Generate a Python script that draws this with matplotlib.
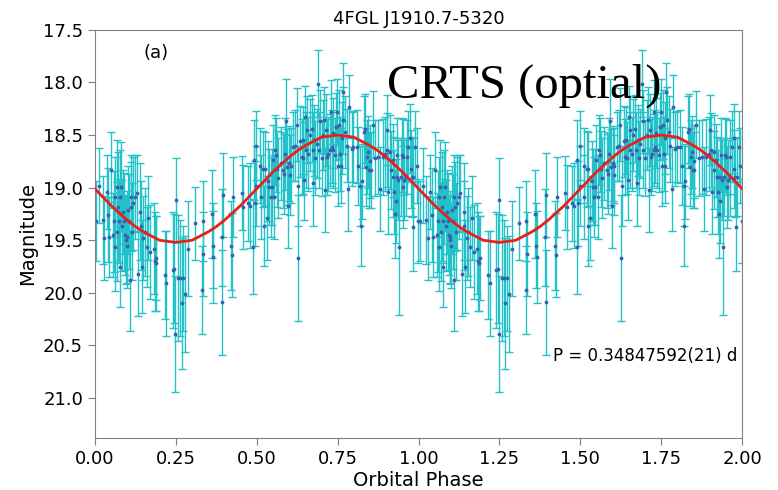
import matplotlib
matplotlib.use("Agg")
import matplotlib.pyplot as plt

# one folded cycle (phase, magnitude, error)
phase = [0.003, 0.013, 0.024, 0.028, 0.036, 0.041, 0.044, 0.051, 0.057, 0.059,
         0.062, 0.063, 0.067, 0.069, 0.072, 0.075, 0.077, 0.079, 0.082, 0.085,
         0.087, 0.091, 0.093, 0.096, 0.098, 0.100, 0.103, 0.106, 0.108, 0.110,
         0.113, 0.116, 0.118, 0.124, 0.129, 0.134, 0.139, 0.141, 0.144, 0.149,
         0.154, 0.160, 0.165, 0.170, 0.182, 0.185, 0.188, 0.190, 0.216, 0.221,
         0.240, 0.244, 0.247, 0.250, 0.258, 0.263, 0.268, 0.273, 0.278, 0.288,
         0.309, 0.333, 0.335, 0.332, 0.361, 0.364, 0.366, 0.392, 0.393, 0.395,
         0.422, 0.424, 0.428, 0.453, 0.458, 0.474,
         0.479, 0.489, 0.491, 0.494, 0.498, 0.498, 0.510, 0.512, 0.520, 0.522,
         0.525, 0.531, 0.536, 0.539, 0.543, 0.546, 0.549, 0.553, 0.556, 0.561,
         0.563, 0.567, 0.574, 0.582, 0.584, 0.587, 0.590, 0.594, 0.597, 0.601,
         0.603, 0.605, 0.613, 0.618, 0.623, 0.626, 0.628, 0.634, 0.639, 0.642,
         0.644, 0.646, 0.649, 0.652, 0.654, 0.659, 0.664, 0.670, 0.673, 0.675,
         0.677, 0.680, 0.685, 0.690, 0.693, 0.695, 0.701, 0.706, 0.708, 0.711,
         0.714, 0.718, 0.721, 0.726, 0.728, 0.731, 0.735, 0.737, 0.742, 0.745,
         0.749, 0.752, 0.755, 0.757, 0.760, 0.762, 0.765, 0.768, 0.773, 0.778,
         0.783, 0.786, 0.793, 0.798, 0.809, 0.814, 0.819, 0.821, 0.824, 0.831,
         0.835, 0.838, 0.842, 0.845, 0.848, 0.850, 0.852, 0.858, 0.865, 0.876,
         0.881, 0.889, 0.896, 0.901, 0.903, 0.907, 0.912, 0.914, 0.920, 0.922,
         0.924, 0.927, 0.930, 0.932, 0.934, 0.938, 0.941, 0.945, 0.948, 0.951,
         0.953, 0.955, 0.961, 0.963, 0.968, 0.974, 0.976, 0.979, 0.982, 0.984,
         0.989, 0.994, 0.999]
mag = [19.32, 18.98, 19.31, 19.48, 19.04, 19.26, 19.47, 18.83, 19.45, 19.32,
       19.56, 19.09, 18.99, 19.42, 19.18, 19.32, 19.75, 19.09, 18.99, 19.36,
       19.23, 19.32, 19.45, 19.50, 19.47, 19.55, 19.21, 19.32, 19.88, 19.09,
       19.18, 19.42, 19.15, 19.09, 19.05, 19.82, 19.23, 19.36, 19.75, 19.48,
       19.42, 19.56, 19.29, 19.61, 19.58, 19.70, 19.72, 19.67, 19.83, 19.91,
       19.78, 19.77, 20.39, 19.12, 19.86, 19.86, 20.10, 19.86, 20.01, 19.58,
       19.34, 19.32, 19.63, 19.97, 19.25, 19.55, 19.66, 19.47, 20.09, 19.07,
       19.55, 19.64, 19.09, 19.05, 19.18, 19.15,
       19.17, 19.56, 18.74, 19.15, 18.60, 18.98, 18.79, 19.09, 18.82, 19.36,
       18.82, 19.29, 18.94, 18.99, 19.09, 18.99, 18.74, 19.09, 18.64, 18.69,
       18.82, 18.91, 18.77, 18.83, 18.87, 18.68, 18.37, 18.80, 19.17, 18.77,
       18.88, 18.79, 18.61, 18.60, 18.40, 19.67, 18.98, 18.56, 18.71, 18.55,
       18.72, 18.93, 18.33, 18.64, 18.45, 18.68, 18.50, 18.44, 18.64, 18.96,
       18.55, 18.72, 18.58, 18.01, 18.64, 18.37, 18.72, 18.50, 18.36, 19.02,
       18.45, 18.71, 18.68, 18.64, 18.28, 18.61, 18.48, 18.64, 18.69, 18.42,
       18.28, 18.79, 18.40, 18.68, 18.79, 18.53, 18.09, 18.36, 18.47, 18.60,
       19.01, 18.23, 18.63, 18.61, 18.61, 18.79, 18.98, 19.36, 18.94, 18.47,
       18.44, 18.80, 18.71, 18.66, 18.83, 18.75, 18.83, 18.40, 18.72, 18.71,
       19.01, 18.71, 18.68, 18.45, 18.64, 19.04, 18.66, 18.83, 18.74, 18.90,
       19.04, 19.25, 19.13, 18.90, 18.69, 18.93, 19.56, 18.90, 18.69, 18.71,
       18.99, 18.93, 18.90, 18.71, 18.61, 18.53, 18.82, 18.90, 19.37, 18.90,
       18.61, 18.79, 19.32]
err = [0.38, 0.36, 0.42, 0.40, 0.35, 0.45, 0.38, 0.36, 0.40, 0.48,
       0.42, 0.38, 0.44, 0.47, 0.52, 0.40, 0.38, 0.45, 0.42, 0.43,
       0.40, 0.46, 0.38, 0.42, 0.44, 0.40, 0.42, 0.45, 0.48, 0.40,
       0.42, 0.46, 0.44, 0.40, 0.36, 0.40, 0.46, 0.42, 0.44, 0.40,
       0.42, 0.38, 0.40, 0.45, 0.43, 0.47, 0.45, 0.40, 0.42, 0.50,
       0.55, 0.52, 0.55, 0.40, 0.60, 0.55, 0.62, 0.50, 0.55, 0.45,
       0.35, 0.38, 0.40, 0.42, 0.42, 0.40, 0.44, 0.46, 0.50, 0.40,
       0.42, 0.40, 0.38, 0.35, 0.40, 0.36,
       0.40, 0.45, 0.38, 0.40, 0.33, 0.38, 0.36, 0.40, 0.36, 0.38,
       0.35, 0.40, 0.38, 0.36, 0.38, 0.36, 0.34, 0.40, 0.33, 0.35,
       0.36, 0.38, 0.35, 0.36, 0.38, 0.34, 0.40, 0.36, 0.40, 0.36,
       0.38, 0.36, 0.33, 0.34, 0.35, 0.60, 0.38, 0.34, 0.36, 0.32,
       0.34, 0.38, 0.30, 0.36, 0.32, 0.35, 0.34, 0.32, 0.36, 0.40,
       0.34, 0.35, 0.33, 0.32, 0.36, 0.30, 0.36, 0.33, 0.32, 0.40,
       0.34, 0.36, 0.35, 0.34, 0.30, 0.35, 0.33, 0.36, 0.35, 0.32,
       0.31, 0.38, 0.33, 0.35, 0.36, 0.34, 0.28, 0.32, 0.34, 0.35,
       0.40, 0.30, 0.35, 0.34, 0.35, 0.37, 0.38, 0.38, 0.36, 0.34,
       0.33, 0.37, 0.35, 0.34, 0.36, 0.35, 0.36, 0.32, 0.36, 0.35,
       0.40, 0.36, 0.35, 0.33, 0.35, 0.40, 0.35, 0.37, 0.35, 0.38,
       0.40, 0.42, 0.40, 0.37, 0.35, 0.38, 0.65, 0.37, 0.35, 0.36,
       0.39, 0.38, 0.37, 0.35, 0.34, 0.33, 0.37, 0.38, 0.42, 0.37,
       0.34, 0.36, 0.40]

# sinusoid fit, one cycle at 0.025 steps
fit_phase = [i * 0.025 for i in range(41)]
fit_mag = [19.01, 19.09, 19.17, 19.24, 19.31, 19.37, 19.42, 19.46, 19.50, 19.51,
           19.52, 19.51, 19.50, 19.46, 19.42, 19.37, 19.31, 19.24, 19.17, 19.09,
           19.01, 18.93, 18.85, 18.78, 18.71, 18.65, 18.60, 18.56, 18.52, 18.51,
           18.50, 18.51, 18.52, 18.56, 18.60, 18.65, 18.71, 18.78, 18.85, 18.93,
           19.01]

# folded light curve shown twice
x = phase + [p + 1 for p in phase]
y = mag + mag
e = err + err
fx = fit_phase + [p + 1 for p in fit_phase[1:]]
fy = fit_mag + fit_mag[1:]

fig = plt.figure(figsize=(7.78, 4.9), dpi=100)
ax = fig.add_axes([0.122, 0.106, 0.832, 0.833])

ax.errorbar(x, y, yerr=e, fmt='.', color='#3a62b0', ecolor='#22c2c8',
            elinewidth=1.0, capsize=3, capthick=1.0, markersize=3.5, zorder=2)
ax.plot(fx, fy, color='#e8201a', lw=2, zorder=3)

ax.set_xlim(0, 2)
ax.set_ylim(21.38, 17.5)
ax.set_xticks([0, 0.25, 0.5, 0.75, 1.0, 1.25, 1.5, 1.75, 2.0])
ax.set_xticklabels(['0.00', '0.25', '0.50', '0.75', '1.00', '1.25', '1.50', '1.75', '2.00'])
ax.set_yticks([17.5, 18.0, 18.5, 19.0, 19.5, 20.0, 20.5, 21.0])
ax.tick_params(labelsize=13, length=5, color='#808080')
for s in ax.spines.values():
    s.set_color('#808080')

ax.set_xlabel('Orbital Phase', fontsize=14, labelpad=2)
ax.set_ylabel('Magnitude', fontsize=14)
ax.set_title('4FGL J1910.7-5320', fontsize=13, pad=4)

ax.text(0.075, 0.93, '(a)', transform=ax.transAxes, fontsize=13)
ax.text(0.708, 0.19, 'P = 0.34847592(21) d', transform=ax.transAxes, fontsize=12)
fig.text(0.498, 0.80, 'CRTS (optial)', fontsize=35, family='Liberation Serif')

fig.savefig('out.png', dpi=100)
